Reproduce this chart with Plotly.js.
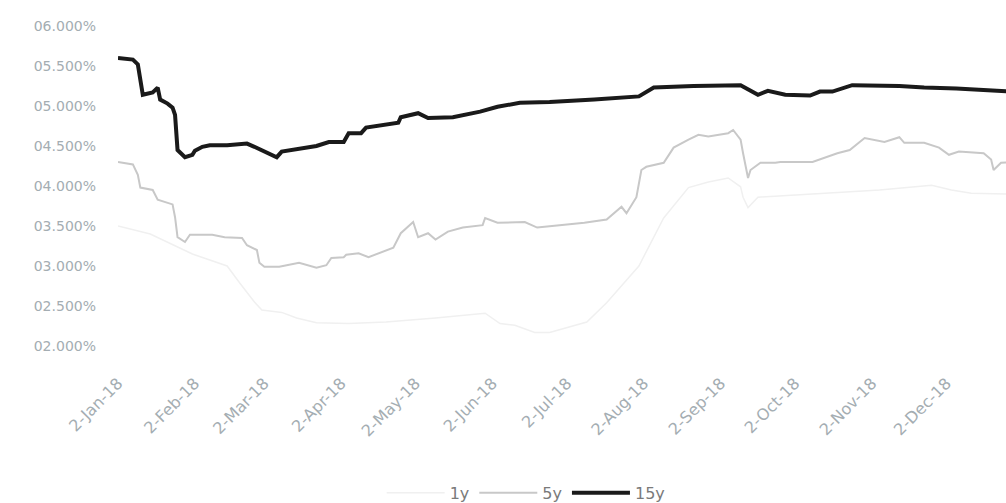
<!DOCTYPE html>
<html>
<head>
<meta charset="utf-8">
<script src="https://cdn.plot.ly/plotly-3.0.1.min.js"></script>
<style>html,body{margin:0;padding:0;background:#fff;}#chart{width:1006px;height:503px;}</style>
</head>
<body>
<div id="chart"></div>
<script>
// 15y series
const dates15 = ["2018-01-02","2018-01-08","2018-01-10","2018-01-11","2018-01-12","2018-01-16","2018-01-17","2018-01-18","2018-01-19","2018-01-22","2018-01-24","2018-01-25","2018-01-26","2018-01-29","2018-02-01","2018-02-02","2018-02-05","2018-02-08","2018-02-15","2018-02-23","2018-02-26","2018-03-01","2018-03-07","2018-03-09","2018-03-20","2018-03-23","2018-03-28","2018-04-03","2018-04-05","2018-04-10","2018-04-12","2018-04-25","2018-04-26","2018-05-03","2018-05-07","2018-05-17","2018-05-28","2018-06-04","2018-06-13","2018-06-25","2018-07-13","2018-07-31","2018-08-06","2018-08-22","2018-09-10","2018-09-17","2018-09-21","2018-09-28","2018-10-08","2018-10-12","2018-10-17","2018-10-25","2018-11-13","2018-11-23","2018-12-06","2018-12-24","2018-12-28"];
const y15 = [5.60,5.58,5.52,5.33,5.14,5.17,5.20,5.23,5.08,5.03,4.98,4.89,4.45,4.36,4.39,4.44,4.49,4.51,4.51,4.53,4.49,4.45,4.36,4.43,4.48,4.50,4.55,4.55,4.66,4.66,4.73,4.79,4.86,4.91,4.85,4.86,4.93,4.99,5.04,5.05,5.08,5.12,5.23,5.25,5.26,5.14,5.19,5.14,5.13,5.18,5.18,5.26,5.25,5.23,5.22,5.18,5.18];

// 5y series
const dates5 = ["2018-01-02","2018-01-08","2018-01-10","2018-01-11","2018-01-16","2018-01-18","2018-01-24","2018-01-25","2018-01-26","2018-01-29","2018-01-31","2018-02-09","2018-02-14","2018-02-21","2018-02-23","2018-02-27","2018-02-28","2018-03-02","2018-03-08","2018-03-16","2018-03-23","2018-03-27","2018-03-29","2018-04-03","2018-04-04","2018-04-09","2018-04-13","2018-04-23","2018-04-26","2018-05-01","2018-05-03","2018-05-07","2018-05-10","2018-05-15","2018-05-21","2018-05-29","2018-05-30","2018-06-04","2018-06-15","2018-06-20","2018-06-29","2018-07-09","2018-07-18","2018-07-24","2018-07-26","2018-07-30","2018-08-01","2018-08-03","2018-08-10","2018-08-14","2018-08-20","2018-08-24","2018-08-28","2018-09-05","2018-09-07","2018-09-10","2018-09-11","2018-09-13","2018-09-14","2018-09-18","2018-09-24","2018-09-26","2018-10-09","2018-10-19","2018-10-24","2018-10-30","2018-11-07","2018-11-13","2018-11-15","2018-11-23","2018-11-29","2018-12-03","2018-12-07","2018-12-17","2018-12-20","2018-12-21","2018-12-24","2018-12-28"];
const y5 = [4.30,4.27,4.14,3.98,3.95,3.83,3.77,3.61,3.36,3.30,3.39,3.39,3.36,3.35,3.26,3.20,3.04,2.99,2.99,3.04,2.98,3.01,3.10,3.11,3.14,3.16,3.11,3.23,3.41,3.55,3.36,3.41,3.33,3.43,3.48,3.51,3.60,3.54,3.55,3.48,3.51,3.54,3.58,3.74,3.66,3.86,4.20,4.24,4.29,4.48,4.58,4.64,4.62,4.66,4.70,4.58,4.41,4.10,4.20,4.29,4.29,4.30,4.30,4.41,4.45,4.60,4.55,4.61,4.54,4.54,4.48,4.39,4.43,4.41,4.33,4.20,4.29,4.30];

// 1y series (very faint in the reference)
const dates1 = ["2018-01-02","2018-01-15","2018-02-01","2018-02-15","2018-02-20","2018-02-26","2018-03-01","2018-03-09","2018-03-15","2018-03-23","2018-04-05","2018-04-20","2018-05-10","2018-05-30","2018-06-05","2018-06-11","2018-06-19","2018-06-25","2018-07-10","2018-07-18","2018-07-31","2018-08-10","2018-08-20","2018-08-28","2018-09-05","2018-09-10","2018-09-11","2018-09-13","2018-09-17","2018-10-10","2018-11-05","2018-11-26","2018-12-04","2018-12-12","2018-12-28"];
const y1 = [3.50,3.40,3.15,3.00,2.79,2.55,2.45,2.42,2.35,2.29,2.28,2.30,2.35,2.41,2.28,2.26,2.17,2.17,2.30,2.54,3.00,3.60,3.98,4.05,4.10,3.99,3.86,3.73,3.86,3.90,3.95,4.01,3.95,3.91,3.90];

const yTickVals = [2.0,2.5,3.0,3.5,4.0,4.5,5.0,5.5,6.0];
const yTickText = ["02.000%","02.500%","03.000%","03.500%","04.000%","04.500%","05.000%","05.500%","06.000%"];
const xTickVals = ["2018-01-02","2018-02-02","2018-03-02","2018-04-02","2018-05-02","2018-06-02","2018-07-02","2018-08-02","2018-09-02","2018-10-02","2018-11-02","2018-12-02"];
const xTickText = ["2-Jan-18","2-Feb-18","2-Mar-18","2-Apr-18","2-May-18","2-Jun-18","2-Jul-18","2-Aug-18","2-Sep-18","2-Oct-18","2-Nov-18","2-Dec-18"];

const traces = [
  {x: dates1, y: y1, name: "1y", type: "scatter", mode: "lines",
   line: {color: "#f0f0f0", width: 1.5}},
  {x: dates5, y: y5, name: "5y", type: "scatter", mode: "lines",
   line: {color: "#c8c8c8", width: 2}},
  {x: dates15, y: y15, name: "15y", type: "scatter", mode: "lines",
   line: {color: "#1a1a1a", width: 4}}
];

const layout = {
  width: 1006, height: 503,
  margin: {l: 118, r: 0, t: 26, b: 157},
  paper_bgcolor: "#ffffff", plot_bgcolor: "#ffffff",
  font: {family: "DejaVu Sans", color: "#a4adb2"},
  showlegend: true,
  legend: {orientation: "h", xref: "container", yref: "container", x: 0.523, xanchor: "center", y: 0.02, yanchor: "middle",
           itemwidth: 58, font: {size: 16, color: "#7a7a7a", family: "DejaVu Sans"}},
  xaxis: {type: "date", range: ["2018-01-02", "2018-12-26"], showgrid: false, zeroline: false, showline: false,
          tickmode: "array", tickvals: xTickVals, ticktext: xTickText, tickangle: -45,
          tickfont: {size: 16, color: "#a4adb2"}, ticks: "", ticklabelstandoff: 24},
  yaxis: {range: [2, 6], showgrid: false, zeroline: false, showline: false,
          tickmode: "array", tickvals: yTickVals, ticktext: yTickText,
          tickfont: {size: 14, color: "#a4adb2"}, ticks: "", ticklabelstandoff: 21}
};

Plotly.newPlot("chart", traces, layout, {displayModeBar: false, staticPlot: true});
</script>
</body>
</html>
